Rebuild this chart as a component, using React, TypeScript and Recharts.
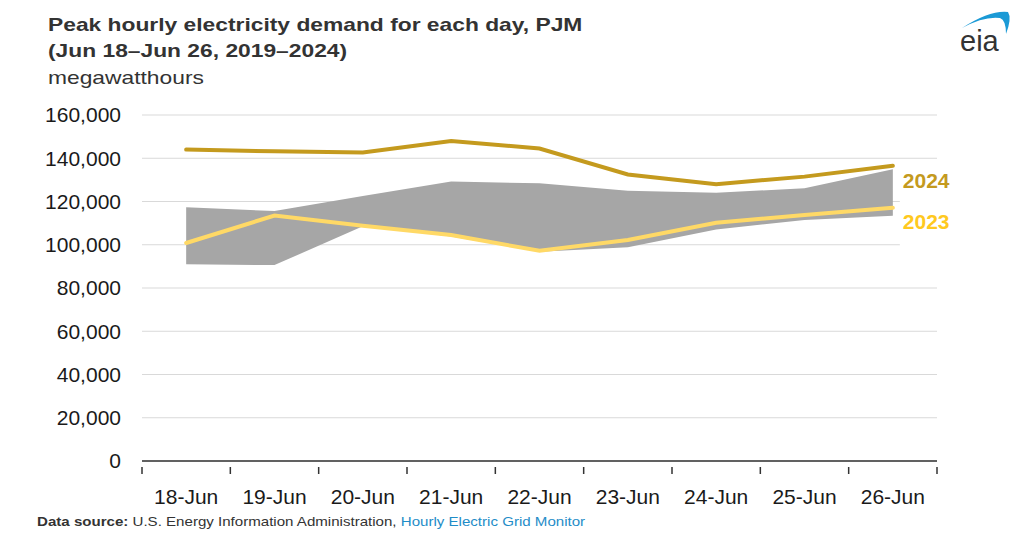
import React from 'react';
import { ComposedChart, Area, Line, XAxis, YAxis, CartesianGrid } from 'recharts';

const days = ['18-Jun', '19-Jun', '20-Jun', '21-Jun', '22-Jun', '23-Jun', '24-Jun', '25-Jun', '26-Jun'];
const y2024 = [144000, 143200, 142700, 148000, 144500, 132500, 128000, 131500, 136500];
const y2023 = [100800, 113500, 108800, 104500, 97200, 102200, 110200, 113800, 117100];
const rangeLow = [91000, 90600, 108500, 103800, 96800, 98800, 107100, 111400, 113400];
const rangeHigh = [117300, 115600, 122500, 129200, 128400, 125000, 124100, 126100, 134900];
const yTicks = [0, 20000, 40000, 60000, 80000, 100000, 120000, 140000, 160000];

const data = days.map((d, i) => ({
  day: d,
  range: [rangeLow[i], rangeHigh[i]],
  y2024: y2024[i],
  y2023: y2023[i],
}));

const FONT = '"Liberation Sans", Arial, Helvetica, sans-serif';
const W = 1024;
const H = 552;
const M = { top: 115, right: 87, bottom: 61, left: 0 };
const Y_W = 142;
const PLOT_W = W - M.left - M.right - Y_W;
const BAND = PLOT_W / days.length;

const XTick = (props: any) => {
  const { x, y, payload, index } = props;
  const left = x - BAND / 2;
  const right = x + BAND / 2;
  return (
    <g>
      <line x1={left} y1={y - 2} x2={left} y2={y + 5} stroke="#333" strokeWidth={1.5} />
      {index === days.length - 1 && (
        <line x1={right} y1={y - 2} x2={right} y2={y + 5} stroke="#333" strokeWidth={1.5} />
      )}
      <text x={x} y={y + 27} textAnchor="middle" dominantBaseline="central" fontSize={21} fill="#1a1a1a" fontFamily={FONT}>
        {payload.value}
      </text>
    </g>
  );
};

const makeEndLabel = (text: string, color: string, dy: number, boxTop: number, boxH: number) => (props: any) => {
  const { x, y, index } = props;
  if (index !== days.length - 1) return null;
  return (
    <g>
      <rect x={x + 7} y={y + boxTop} width={70} height={boxH} fill="#fff" />
      <text x={x + 10} y={y + dy} dominantBaseline="central" fontSize={21} fontWeight="bold" fill={color} fontFamily={FONT}>
        {text}
      </text>
    </g>
  );
};

export default function App() {
  return (
    <div style={{ position: 'relative', width: W, height: H, background: '#fff', fontFamily: FONT }}>
      <style>{`body{margin:0;}`}</style>
      <div style={{ position: 'absolute', left: 48, top: 12, color: '#333', fontSize: 19, fontWeight: 'bold', lineHeight: '26px', transform: 'scaleX(1.2)', transformOrigin: 'left top', whiteSpace: 'nowrap' }}>
        <div>Peak hourly electricity demand for each day, PJM</div>
        <div>(Jun 18–Jun 26, 2019–2024)</div>
      </div>
      <div style={{ position: 'absolute', left: 48, top: 65, color: '#333', fontSize: 19, lineHeight: '26px', transform: 'scaleX(1.2)', transformOrigin: 'left top', whiteSpace: 'nowrap' }}>
        megawatthours
      </div>
      <svg style={{ position: 'absolute', left: 950, top: 4 }} width={70} height={52}>
        <path d="M 12 24 Q 40 6 58 8 Q 62 14 56 30 Q 56 16 50 14 Q 34 12 12 24 Z" fill="#1b9ad6" />
        <text x={10} y={47} fontSize={29} fill="#333" fontFamily={FONT}>eia</text>
      </svg>
      <ComposedChart width={W} height={H} data={data} margin={M}>
        <CartesianGrid vertical={false} stroke="#d9d9d9" strokeWidth={1.2} />
        <XAxis
          dataKey="day"
          axisLine={{ stroke: '#333', strokeWidth: 1.5 }}
          tickLine={false}
          tick={<XTick />}
          interval={0}
          padding={{ left: BAND / 2, right: BAND / 2 }}
        />
        <YAxis
          width={Y_W}
          domain={[0, 160000]}
          ticks={yTicks}
          axisLine={false}
          tickLine={false}
          tickMargin={15}
          tickFormatter={(v: number) => v.toLocaleString('en-US')}
          tick={{ fontSize: 21, fill: '#1a1a1a', fontFamily: FONT }}
        />
        <Area dataKey="range" type="linear" stroke="none" fill="#a6a6a6" fillOpacity={1} isAnimationActive={false} />
        <Line
          dataKey="y2023"
          type="linear"
          stroke="#ffd966"
          strokeWidth={4}
          strokeLinecap="round"
          dot={false}
          isAnimationActive={false}
          label={makeEndLabel('2023', '#ffc91f', 14, -4, 48)}
        />
        <Line
          dataKey="y2024"
          type="linear"
          stroke="#c49a1e"
          strokeWidth={4}
          strokeLinecap="round"
          dot={false}
          isAnimationActive={false}
          label={makeEndLabel('2024', '#c49a1e', 15, 0, 40)}
        />
      </ComposedChart>
      <div style={{ position: 'absolute', left: 37, top: 514, fontSize: 13, color: '#333', transform: 'scaleX(1.16)', transformOrigin: 'left top', whiteSpace: 'nowrap' }}>
        <b>Data source:</b> U.S. Energy Information Administration,{' '}
        <span style={{ color: '#1f8dc8' }}>Hourly Electric Grid Monitor</span>
      </div>
    </div>
  );
}
